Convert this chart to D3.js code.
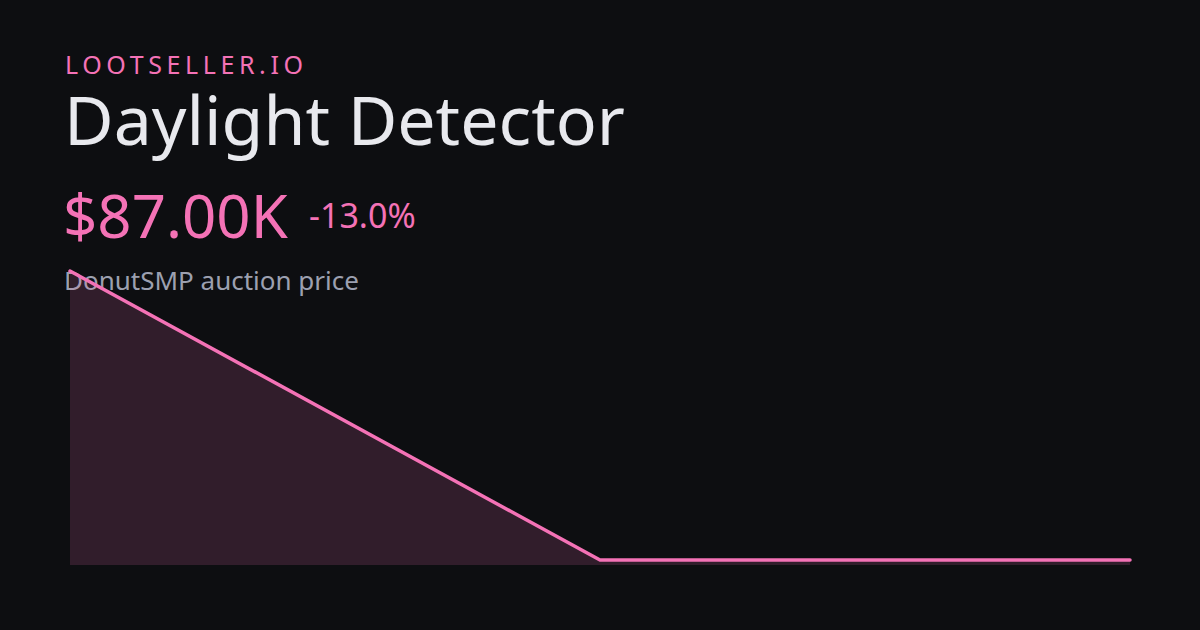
<!DOCTYPE html>
<html><head><meta charset="utf-8">
<script src="https://cdn.jsdelivr.net/npm/d3@7"></script>
<style>html,body{margin:0;padding:0;background:#0d0e11;}svg{display:block;}</style>
</head><body>
<svg id="c" width="1200" height="630"></svg>
<script>
const brand = "LOOTSELLER.IO";
const itemName = "Daylight Detector";
const priceLabel = "$87.00K";
const changeLabel = "-13.0%";
const subtitle = "DonutSMP auction price";
const points = [0, 1, 2];
const prices = [100000, 87000, 87000];

const svg = d3.select("#c");
const W = 1200, H = 630;
svg.append("rect").attr("width", W).attr("height", H).attr("fill", "#0d0e11");
const font = "'Noto Sans', sans-serif";
const pink = "#f472b6";

svg.append("text").attr("x", 65).attr("y", 74).text(brand)
  .attr("font-family", font).attr("font-size", 25).attr("letter-spacing", 4.6).attr("fill", pink);
svg.append("text").attr("x", 64).attr("y", 145).text(itemName)
  .attr("font-family", font).attr("font-size", 68).attr("fill", "#e8e9ee");
svg.append("text").attr("x", 63).attr("y", 238).text(priceLabel)
  .attr("font-family", font).attr("font-size", 60).attr("fill", pink);
svg.append("text").attr("x", 309).attr("y", 228).text(changeLabel)
  .attr("font-family", font).attr("font-size", 34).attr("fill", pink);
svg.append("text").attr("x", 64).attr("y", 290).text(subtitle)
  .attr("font-family", font).attr("font-size", 26).attr("fill", "#9ca0b0");

const x = d3.scaleLinear().domain(d3.extent(points)).range([70, 1130]);
const y = d3.scaleLinear().domain([d3.min(prices), d3.max(prices)]).range([560, 271]);
const data = points.map((d, i) => ({x: d, y: prices[i]}));

svg.append("path").datum(data)
  .attr("d", d3.area().x(d => x(d.x)).y0(565).y1(d => y(d.y)))
  .attr("fill", pink).attr("fill-opacity", 0.16);
svg.append("path").datum(data)
  .attr("d", d3.line().x(d => x(d.x)).y(d => y(d.y)))
  .attr("fill", "none").attr("stroke", pink).attr("stroke-width", 3.5)
  .attr("stroke-linecap", "round").attr("stroke-linejoin", "round");
</script>
</body></html>
